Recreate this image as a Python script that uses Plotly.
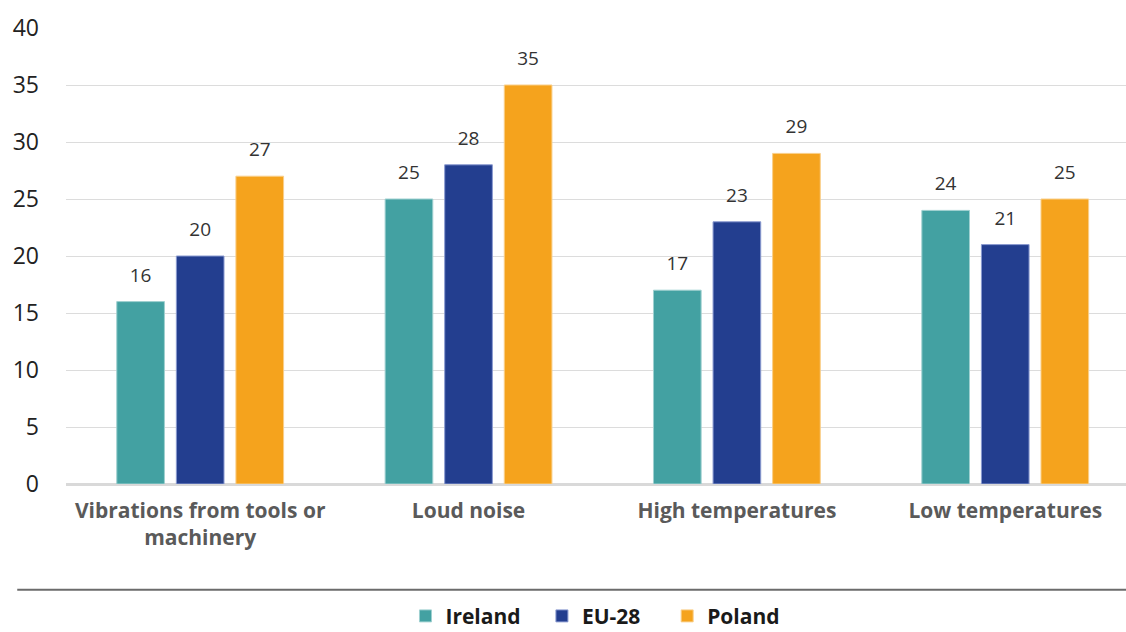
import plotly.graph_objects as go

categories = ["Vibrations from tools or<br>machinery", "Loud noise", "High temperatures", "Low temperatures"]
ireland = [16, 25, 17, 24]
eu28 = [20, 28, 23, 21]
poland = [27, 35, 29, 25]
series_names = ["Ireland", "EU-28", "Poland"]
colors = ["#43a1a2", "#233e8f", "#f5a31d"]
line_colors = ["#9fd0d0", "#8a9ad0", "#f9cf8a"]
y_ticks = [0, 5, 10, 15, 20, 25, 30, 35, 40]

FONT = "'Open Sans', Lato, sans-serif"
NBSP = "\u00a0"
legend_pad = [3, 4, 0]

fig = go.Figure()
for name, vals, c, lc, pad in zip(series_names, [ireland, eu28, poland], colors, line_colors, legend_pad):
    fig.add_trace(go.Bar(
        name=name + NBSP * pad, x=categories, y=vals,
        marker=dict(color=c, line=dict(color=lc, width=1)),
        text=vals,
        texttemplate="<span style='font-size:19px'>%{y}</span><br><span style='font-size:1px'> </span>",
        textposition="outside",
        textfont=dict(family=FONT, size=13, color="#333333"),
        cliponaxis=False,
    ))

fig.update_layout(
    width=1126, height=632,
    margin=dict(l=66, r=0, t=28, b=148, autoexpand=False),
    paper_bgcolor="white", plot_bgcolor="white",
    barmode="group", bargap=0.334, bargroupgap=0.2,
    font=dict(family=FONT, color="#333333"),
    showlegend=True,
    legend=dict(
        orientation="h", x=0.4995, xanchor="center", y=-0.29, yanchor="middle",
        font=dict(family=FONT, size=21, color="#1a1a1a", weight="bold"),
        itemwidth=30, traceorder="normal",
    ),
    xaxis=dict(
        type="category", range=[-0.5, 3.45], automargin=False,
        tickfont=dict(family=FONT, size=21, color="#5a5a5a", weight="bold"),
        showgrid=False, showline=False, ticks="",
        ticklabelstandoff=12,
    ),
    yaxis=dict(
        range=[0, 40], tickvals=y_ticks, automargin=False,
        tickfont=dict(family=FONT, size=23, color="#222222"),
        showgrid=True, gridcolor="#dcdcdc", gridwidth=1,
        zeroline=True, zerolinecolor="#d9d9d9", zerolinewidth=3,
        showline=False, ticks="", ticklabelstandoff=26,
    ),
    shapes=[dict(type="line", xref="paper", yref="paper", x0=-0.046, x1=1.0,
                 y0=-0.232, y1=-0.232, line=dict(color="#6b6b6b", width=2))],
)

fig.write_html(
    "out.html",
    config={"displayModeBar": False},
    post_script="document.body.style.margin='0';document.body.style.overflow='hidden';",
)
